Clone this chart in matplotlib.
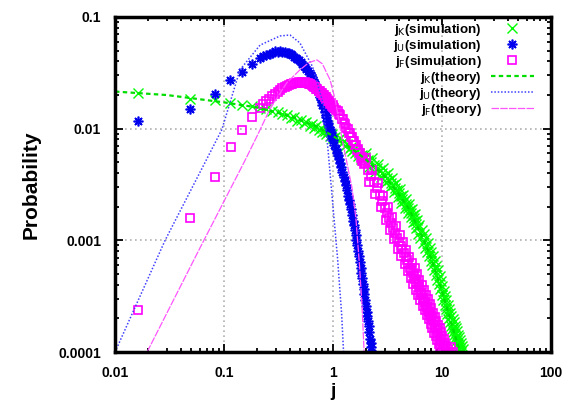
import matplotlib
matplotlib.use("Agg")
import matplotlib.pyplot as plt
from matplotlib.ticker import LogLocator, NullFormatter, FuncFormatter

plt.rcParams['font.family'] = ['Liberation Sans', 'DejaVu Sans']

# j_K simulation (green crosses)
jk_x = [0.0163, 0.049, 0.082, 0.114, 0.147, 0.18, 0.212, 0.245, 0.278, 0.31,
        0.343, 0.376, 0.41, 0.44, 0.47, 0.51, 0.54, 0.57, 0.61, 0.64,
        0.67, 0.70, 0.74, 0.77, 0.80, 0.84, 0.87, 0.90, 0.93, 0.97,
        1.0, 1.05, 1.1, 1.15, 1.2, 1.25, 1.3, 1.35, 1.4, 1.45,
        1.5, 1.55, 1.6, 1.65, 1.7, 1.75, 1.8, 1.85, 1.9, 1.95,
        2.00, 2.15, 2.30, 2.45, 2.60, 2.75, 2.90, 3.05, 3.20, 3.35,
        3.50, 3.65, 3.80, 3.95, 4.10, 4.25, 4.40, 4.55, 4.70, 4.85,
        5.00, 5.15, 5.30, 5.45, 5.60, 5.75, 5.90, 6.05, 6.20, 6.35,
        6.50, 6.65, 6.80, 6.95, 7.10, 7.25, 7.40, 7.55, 7.70, 7.85,
        8.00, 8.15, 8.30, 8.45, 8.60, 8.75, 8.90, 9.05, 9.20, 9.35,
        9.50, 9.65, 9.80, 9.95, 10.10, 10.25, 10.40, 10.55, 10.70, 10.85,
        11.00, 11.15, 11.30, 11.45, 11.60, 11.75, 11.90, 12.05, 12.20, 12.35,
        12.50, 12.65, 12.80, 12.95, 13.10, 13.25, 13.40, 13.55, 13.70, 13.85,
        14.00, 14.15, 14.30, 14.45, 14.60, 14.75, 14.90, 15.05, 15.20, 15.35,
        15.50,
        2.08, 2.23, 2.38, 2.53, 2.68, 2.83, 2.98, 3.13, 3.28, 3.43,
        3.58, 3.73, 3.88, 4.03, 4.18, 4.33, 4.48, 4.63, 4.78, 4.93,
        5.08, 5.23, 5.38, 5.53, 5.68, 5.83, 5.98]
jk_y = [0.0209, 0.0186, 0.0180, 0.0171, 0.0164, 0.0159, 0.0154, 0.0151, 0.0143, 0.0142,
        0.0134, 0.0133, 0.0125, 0.0126, 0.0118, 0.0119, 0.0112, 0.0114, 0.0106, 0.0109,
        0.0101, 0.0105, 0.0097, 0.0101, 0.0093, 0.0096, 0.0089, 0.0093, 0.0086, 0.0090,
        0.0083, 0.0085, 0.0079, 0.0082, 0.0074, 0.0077, 0.0070, 0.0073, 0.0066, 0.0069,
        0.0063, 0.0066, 0.0060, 0.0063, 0.0057, 0.0060, 0.0054, 0.0058, 0.0052, 0.0056,
        6.05e-3, 4.56e-3, 5.43e-3, 4.08e-3, 4.87e-3, 3.68e-3, 4.40e-3, 3.33e-3, 3.98e-3, 3.00e-3,
        3.58e-3, 2.71e-3, 3.24e-3, 2.45e-3, 2.91e-3, 2.17e-3, 2.56e-3, 1.93e-3, 2.33e-3, 1.77e-3,
        2.13e-3, 1.61e-3, 1.92e-3, 1.45e-3, 1.71e-3, 1.28e-3, 1.52e-3, 1.14e-3, 1.37e-3, 1.04e-3,
        1.25e-3, 9.5e-4, 1.14e-3, 8.6e-4, 1.04e-3, 7.9e-4, 9.5e-4, 7.2e-4, 8.6e-4, 6.5e-4,
        7.8e-4, 5.96e-4, 7.2e-4, 5.4e-4, 6.5e-4, 4.9e-4, 5.9e-4, 4.45e-4, 5.4e-4, 4.05e-4,
        4.8e-4, 3.63e-4, 4.33e-4, 3.27e-4, 3.90e-4, 2.94e-4, 3.49e-4, 2.63e-4, 3.18e-4, 2.42e-4,
        2.91e-4, 2.21e-4, 2.64e-4, 1.99e-4, 2.41e-4, 1.84e-4, 2.24e-4, 1.72e-4, 2.09e-4, 1.61e-4,
        1.96e-4, 1.51e-4, 1.84e-4, 1.41e-4, 1.72e-4, 1.34e-4, 1.63e-4, 1.26e-4, 1.53e-4, 1.18e-4,
        1.43e-4, 1.10e-4, 1.35e-4, 1.04e-4, 1.28e-4, 0.99e-4, 1.20e-4, 0.93e-4, 1.13e-4, 0.87e-4,
        1.06e-4,
        5.25e-3, 4.98e-3, 4.71e-3, 4.46e-3, 4.24e-3, 4.03e-3, 3.83e-3, 3.64e-3, 3.46e-3, 3.28e-3,
        3.12e-3, 2.96e-3, 2.82e-3, 2.67e-3, 2.52e-3, 2.36e-3, 2.23e-3, 2.12e-3, 2.03e-3, 1.94e-3,
        1.85e-3, 1.76e-3, 1.67e-3, 1.58e-3, 1.48e-3, 1.40e-3, 1.32e-3]

# j_U simulation (blue asterisks)
ju_x = [0.0163, 0.049, 0.082, 0.114, 0.147, 0.18, 0.212, 0.228, 0.245, 0.262,
        0.278, 0.295, 0.31, 0.327, 0.343, 0.36, 0.376, 0.393, 0.41, 0.425,
        0.44, 0.455, 0.47, 0.49, 0.51, 0.525, 0.54, 0.555, 0.57, 0.59,
        0.61, 0.625, 0.64, 0.655, 0.67, 0.685, 0.70, 0.72, 0.74, 0.755,
        0.77, 0.785, 0.80, 0.82, 0.84, 0.855, 0.87, 0.885, 0.90, 0.92,
        0.935, 0.95, 0.97, 0.985, 1.0, 1.03, 1.06, 1.08, 1.10, 1.13,
        1.16, 1.19, 1.22, 1.25, 1.28, 1.31, 1.34, 1.37, 1.40, 1.43,
        1.46, 1.49, 1.52, 1.55, 1.58, 1.61, 1.64, 1.67, 1.70, 1.73,
        1.76, 1.79, 1.82, 1.85, 1.88, 1.91, 1.94, 1.97, 2.0, 2.03,
        2.06, 2.09, 2.12, 2.15, 2.18, 2.21, 2.24, 2.27]
ju_y = [0.0118, 0.0151, 0.0205, 0.0274, 0.0325, 0.0380, 0.0425, 0.0450, 0.0458, 0.0470,
        0.0478, 0.0492, 0.0488, 0.0496, 0.0490, 0.0488, 0.0480, 0.0476, 0.0462, 0.0455,
        0.0440, 0.0430, 0.0418, 0.0410, 0.0392, 0.0380, 0.0366, 0.0355, 0.0342, 0.0330,
        0.0312, 0.0300, 0.0288, 0.0275, 0.0262, 0.0250, 0.0238, 0.0222, 0.0206, 0.0194,
        0.0184, 0.0174, 0.0164, 0.0152, 0.0142, 0.0133, 0.0126, 0.0118, 0.0112, 0.0104,
        0.0097, 0.0093, 0.0086, 0.0082, 0.0079, 0.0071, 0.0066, 0.0061, 0.0058, 0.0053,
        0.0049, 0.0045, 0.0041, 0.0037, 0.0034, 0.0031, 0.0028, 0.0025, 0.0023, 0.0021,
        0.0019, 0.0017, 0.0015, 0.00137, 0.00123, 0.00111, 0.00100, 0.00090, 0.00080, 0.00072,
        0.00064, 0.00057, 0.00051, 0.00046, 0.00041, 0.00037, 0.00033, 0.00029, 0.00026, 0.00023,
        0.00021, 0.00019, 0.00017, 0.00015, 0.00013, 0.00012, 0.00011, 0.000098]

# j_F simulation (magenta squares)
jf_x = [0.0163, 0.049, 0.082, 0.116, 0.147, 0.18,
        0.212, 0.228, 0.245, 0.26, 0.278, 0.295, 0.31, 0.327, 0.343, 0.36,
        0.376, 0.393, 0.41, 0.425, 0.44, 0.46, 0.475, 0.49, 0.51, 0.525,
        0.54, 0.555, 0.57, 0.59, 0.605, 0.62, 0.64, 0.655, 0.67, 0.69,
        0.705, 0.72, 0.74, 0.755, 0.77, 0.79, 0.805, 0.82, 0.84, 0.855,
        0.87, 0.89, 0.905, 0.92, 0.94, 0.955, 0.97, 0.99, 1.0, 1.03,
        1.06, 1.1, 1.13, 1.16, 1.2, 1.23, 1.26, 1.3, 1.33, 1.36,
        1.4, 1.43, 1.46, 1.5, 1.53, 1.56, 1.6, 1.63, 1.66, 1.7,
        1.73, 1.76, 1.8, 1.83, 1.86, 1.9, 1.93, 1.96,
        2.00, 2.15, 2.30, 2.45, 2.60, 2.75, 2.90, 3.05, 3.20, 3.35,
        3.50, 3.65, 3.80, 3.95, 4.10, 4.25, 4.40, 4.55, 4.70, 4.85,
        5.00, 5.15, 5.30, 5.45, 5.60, 5.75, 5.90, 6.05, 6.20, 6.35,
        6.50, 6.65, 6.80, 6.95, 7.10, 7.25, 7.40, 7.55, 7.70, 7.85,
        8.00, 8.15, 8.30, 8.45, 8.60, 8.75, 8.90, 9.05, 9.20, 9.35,
        9.50, 9.65, 9.80, 9.95, 10.10, 10.25, 10.40, 10.55, 10.70, 10.85,
        11.00, 11.15, 11.30, 11.60, 11.90, 12.0, 12.6,
        2.08, 2.23, 2.38, 2.53, 2.68, 2.83, 2.98, 3.13, 3.28, 3.43,
        3.58, 3.73, 3.88, 4.03, 4.18, 4.33, 4.48, 4.63, 4.78, 4.93,
        5.08, 5.23, 5.38, 5.53, 5.68, 5.83, 5.98, 6.13, 6.28, 6.43,
        6.58, 6.73, 6.88, 7.03, 7.18, 7.33, 7.48, 7.63, 7.78, 7.93,
        8.08, 8.38, 8.68, 8.98, 9.28, 9.58, 9.88, 10.18, 10.48, 10.78]
jf_y = [0.00024, 0.00158, 0.0037, 0.0068, 0.0098, 0.0126,
        0.0154, 0.0168, 0.0178, 0.0186, 0.0196, 0.0204, 0.0213, 0.0220, 0.0229, 0.0235,
        0.0241, 0.0246, 0.0249, 0.0253, 0.0255, 0.0258, 0.0259, 0.0262, 0.0259, 0.0263,
        0.0259, 0.0262, 0.0256, 0.0256, 0.0250, 0.0251, 0.0244, 0.0242, 0.0236, 0.0235,
        0.0227, 0.0226, 0.0218, 0.0217, 0.0209, 0.0208, 0.0200, 0.0200, 0.0192, 0.0192,
        0.0184, 0.0184, 0.0176, 0.0176, 0.0168, 0.0169, 0.0161, 0.0162, 0.0156, 0.0153,
        0.0146, 0.0144, 0.0134, 0.0132, 0.0122, 0.0121, 0.0112, 0.0110, 0.0101, 0.0100,
        0.0092, 0.0092, 0.0085, 0.0084, 0.0077, 0.0078, 0.0071, 0.0071, 0.0065, 0.0066,
        0.0060, 0.0061, 0.0055, 0.0056, 0.0051, 0.0052, 0.0048, 0.0049,
        5.5e-3, 3.36e-3, 4.27e-3, 2.60e-3, 3.29e-3, 1.98e-3, 2.50e-3, 1.52e-3, 1.99e-3, 1.24e-3,
        1.62e-3, 1.02e-3, 1.34e-3, 0.84e-3, 1.12e-3, 0.72e-3, 0.96e-3, 0.62e-3, 0.82e-3, 0.53e-3,
        0.71e-3, 0.46e-3, 0.63e-3, 0.41e-3, 0.56e-3, 0.36e-3, 0.50e-3, 0.325e-3, 0.445e-3, 0.29e-3,
        0.40e-3, 0.26e-3, 0.36e-3, 0.236e-3, 0.326e-3, 0.215e-3, 0.297e-3, 0.196e-3, 0.27e-3, 0.178e-3,
        0.246e-3, 0.163e-3, 0.225e-3, 0.149e-3, 0.207e-3, 0.138e-3, 0.191e-3, 0.127e-3, 0.176e-3, 0.117e-3,
        0.163e-3, 0.109e-3, 0.151e-3, 0.101e-3, 0.140e-3, 0.093e-3, 0.13e-3, 0.086e-3, 0.12e-3, 0.08e-3,
        0.113e-3, 0.076e-3, 0.106e-3, 0.10e-3, 0.095e-3, 0.00011, 0.0001,
        4.3e-3, 3.8e-3, 3.33e-3, 2.93e-3, 2.56e-3, 2.23e-3, 1.96e-3, 1.75e-3, 1.58e-3, 1.42e-3,
        1.29e-3, 1.17e-3, 1.06e-3, 0.97e-3, 0.895e-3, 0.83e-3, 0.77e-3, 0.715e-3, 0.665e-3, 0.615e-3,
        0.57e-3, 0.537e-3, 0.505e-3, 0.476e-3, 0.45e-3, 0.426e-3, 0.403e-3, 0.381e-3, 0.36e-3, 0.34e-3,
        0.322e-3, 0.306e-3, 0.292e-3, 0.278e-3, 0.265e-3, 0.253e-3, 0.241e-3, 0.23e-3, 0.22e-3, 0.21e-3,
        0.20e-3, 0.184e-3, 0.169e-3, 0.156e-3, 0.144e-3, 0.133e-3, 0.124e-3, 0.115e-3, 0.106e-3, 0.099e-3]

# theory curves
tk_x = [0.01, 0.03, 0.1, 0.2, 0.4, 0.7, 1.0, 1.5, 2.0, 3.0,
        4.0, 5.0, 6.0, 7.0, 8.0, 9.0, 10.0, 12.0, 14.0, 15.0]
tk_y = [0.0215, 0.0200, 0.0172, 0.0155, 0.0130, 0.0105, 0.0086, 0.0066, 0.0053, 0.0037,
        0.0026, 0.0019, 0.0013, 0.00095, 0.00068, 0.00048, 0.00035, 0.00019, 0.000115, 0.0001]

tu_x = [0.01, 0.0288, 0.0955, 0.14, 0.214, 0.326, 0.403, 0.497, 0.65, 0.81,
        0.9, 1.0, 1.1, 1.2, 1.25]
tu_y = [0.0001, 0.001, 0.0098, 0.0336, 0.056, 0.0676, 0.069, 0.0586, 0.0358, 0.017,
        0.0065, 0.002, 0.0007, 0.00022, 0.0001]

tf_x = [0.0197, 0.06, 0.156, 0.2, 0.264, 0.375, 0.497, 0.6, 0.713, 0.8,
        0.87, 0.94, 1.05, 1.2, 1.35, 1.49, 1.62, 1.75, 1.85, 1.93]
tf_y = [0.0001, 0.00085, 0.0052, 0.0085, 0.0150, 0.0256, 0.0336, 0.0390, 0.0413, 0.0380,
        0.0320, 0.0274, 0.0180, 0.0085, 0.0048, 0.0030, 0.0016, 0.0006, 0.00025, 0.0001]

fig = plt.figure(figsize=(5.68, 4.0), dpi=100)
ax = fig.add_axes([0.2025, 0.12, 0.7675, 0.8375])

ax.plot(jk_x, jk_y, ls='none', marker='x', ms=6.5, mew=1.0, color='#00ff00',
        label=r'j$_\mathrm{K}$(simulation)')
ax.plot(ju_x, ju_y, ls='none', marker=(8, 2, 0), ms=7, mew=1.2, color='#0000ee',
        label=r'j$_\mathrm{U}$(simulation)')
ax.plot(jf_x, jf_y, ls='none', marker='s', ms=5.5, mew=1.2, mfc='none', mec='#ff00ff',
        label=r'j$_\mathrm{F}$(simulation)')
ax.plot(tk_x, tk_y, ls=(0, (2, 1.5)), lw=1.6, color='#00dd00', label=r'j$_\mathrm{K}$(theory)')
ax.plot(tu_x, tu_y, ls=(0, (1, 1.2)), lw=1.1, color='#4040ff', label=r'j$_\mathrm{U}$(theory)')
ax.plot(tf_x, tf_y, ls=(0, (6, 1)), lw=0.9, color='#ff55ff', label=r'j$_\mathrm{F}$(theory)')

ax.set_xscale('log')
ax.set_yscale('log')
ax.set_xlim(0.01, 100)
ax.set_ylim(0.0001, 0.1)

fmt = FuncFormatter(lambda v, p: '%g' % v)
ax.xaxis.set_major_formatter(fmt)
ax.yaxis.set_major_formatter(fmt)
ax.xaxis.set_minor_locator(LogLocator(base=10, subs=range(2, 10), numticks=20))
ax.yaxis.set_minor_locator(LogLocator(base=10, subs=range(2, 10), numticks=20))
ax.xaxis.set_minor_formatter(NullFormatter())
ax.yaxis.set_minor_formatter(NullFormatter())

ax.grid(True, which='major', ls=(0, (1, 2)), color='#b0b0b0', lw=1.2)
ax.set_axisbelow(True)
ax.tick_params(which='both', direction='in', top=True, right=True, width=1.3)
ax.tick_params(which='major', length=6, labelsize=10, pad=10)
ax.tick_params(which='minor', length=3)
for lab in ax.get_xticklabels() + ax.get_yticklabels():
    lab.set_fontweight('bold')
for s in ax.spines.values():
    s.set_linewidth(2.5)

ax.set_xlabel('j', fontsize=14, fontweight='bold', labelpad=2)
ax.set_ylabel('Probability', fontsize=15, fontweight='bold', labelpad=13)

ax.legend(loc='upper right', bbox_to_anchor=(0.96, 0.985), frameon=False,
          markerfirst=False, numpoints=1, handlelength=3.2, handletextpad=0.7,
          labelspacing=0.0, borderpad=0, borderaxespad=0,
          prop={'size': 9.6, 'weight': 'bold'})

fig.savefig('out.png', dpi=100)
